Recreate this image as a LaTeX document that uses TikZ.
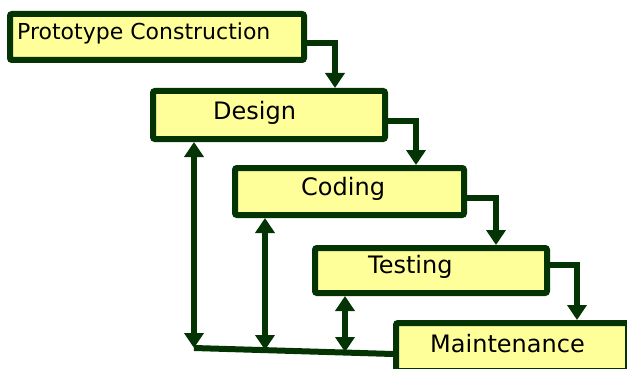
\documentclass[tikz,border=0pt]{standalone}
\usepackage{fontspec}
\setmainfont{DejaVu Sans}
\usetikzlibrary{arrows.meta,positioning,calc}
\definecolor{boxfill}{HTML}{FFFF99}
\definecolor{boxline}{HTML}{043304}

\begin{document}
\begin{tikzpicture}[x=1pt,y=-1pt,>={Triangle[width=19pt,length=15pt]},
		box/.style={draw=boxline, fill=boxfill, line width=6pt, rounded corners=2pt, inner sep=0pt},
		tag/.style={anchor=base west, inner sep=0pt, font=\fontsize{24}{24}\selectfont},
		flow/.style={draw=boxline, line width=6pt}]
		\clip (0,0) rectangle (627,369);
		% stages, each one a step further down and to the right
		\node[box, minimum width=294pt, minimum height=46pt] (proto) at (157,37) {};
		\node[box, minimum width=232pt, minimum height=48pt] (design) at (269,115) {};
		\node[box, minimum width=229pt, minimum height=47pt] (coding) at (349.5,191.5) {};
		\node[box, minimum width=232pt, minimum height=45pt] (testing) at (431,270.5) {};
		\node[box, minimum width=232pt, minimum height=48pt] (maint) at (512,347) {};
		\node[tag, font=\fontsize{22}{22}\selectfont] (protoTxt) at (17,40) {Prototype Construction};
		\node[tag] (designTxt) at (213,120) {Design};
		\node[tag] (codingTxt) at (301,195) {Coding};
		\node[tag] (testingTxt) at (368,273) {Testing};
		\node[tag] (maintTxt) at (430,352) {Maintenance};
		% downward flow
		\draw[flow,->] (proto.east |- 0,43) -| (335,0 |- design.north);
		\draw[flow,->] (design.east |- 0,121) -| (416,0 |- coding.north);
		\draw[flow,->] (coding.east |- 0,197.5) -| (496,0 |- testing.north);
		\draw[flow,->] (testing.east |- 0,265) -| (577,0 |- maint.north);
		% feedback from maintenance
		\coordinate (fbA) at (194,348);
		\coordinate (fbB) at (265,350);
		\coordinate (fbC) at (345,352);
		\draw[flow] (maint.west |- 0,354) -- (fbA);
		\draw[flow,<->] (design.south -| fbA) -- (fbA);
		\draw[flow,<->] (coding.south -| fbB) -- (fbB);
		\draw[flow,<->] (testing.south -| fbC) -- (fbC);
	\end{tikzpicture}
\end{document}
